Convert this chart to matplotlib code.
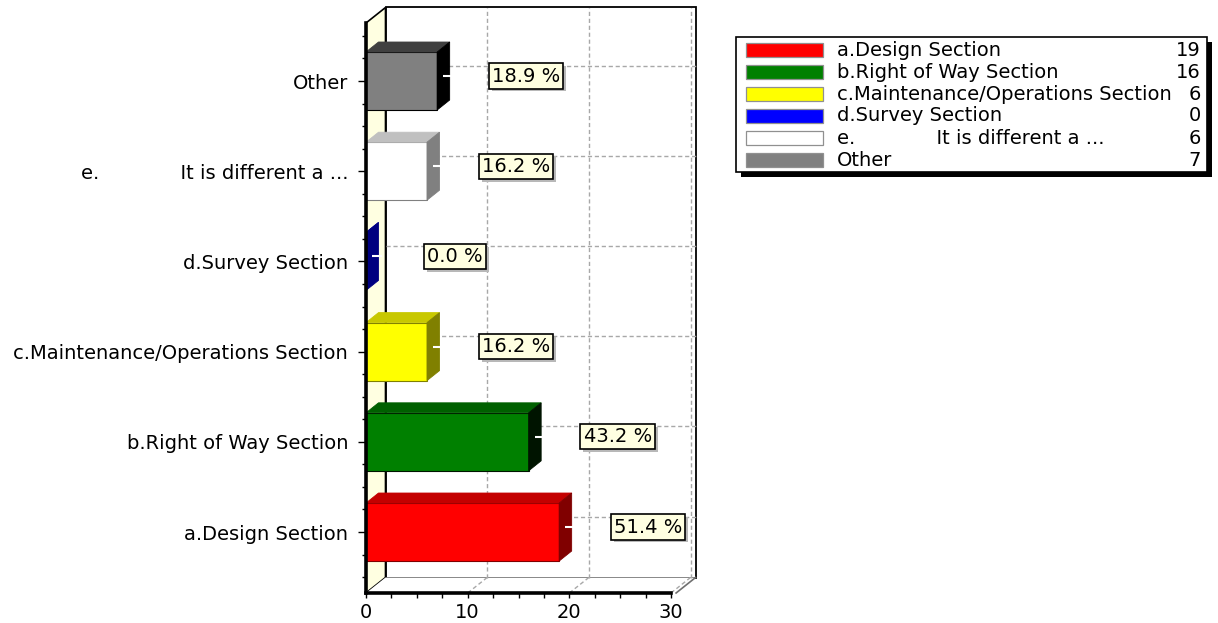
import matplotlib
matplotlib.use("Agg")
import matplotlib.pyplot as plt
from matplotlib import patheffects
from matplotlib.patches import Polygon, Rectangle
from matplotlib.ticker import MultipleLocator
import numpy as np

# Survey answers (bottom to top) and counts
categories = [
    "a.Design Section",
    "b.Right of Way Section",
    "c.Maintenance/Operations Section",
    "d.Survey Section",
    "e.             It is different a ...",
    "Other",
]
counts = [19, 16, 6, 0, 6, 7]
respondents = 37
x_ticks = [0, 10, 20, 30]

face_colors = ["#FF0000", "#008000", "#FFFF00", "#0000FF", "#FFFFFF", "#808080"]
top_colors = ["#C40000", "#006000", "#C8C800", "#0000C0", "#C0C0C0", "#404040"]
side_colors = ["#800000", "#001400", "#808000", "#000080", "#808080", "#000000"]

W, H = 1218, 623
FONT = 14
plt.rcParams["font.family"] = ["DejaVu Sans"]

fig = plt.figure(figsize=(W / 100, H / 100), dpi=100)
ax = fig.add_axes([366 / W, (H - 593) / H, 305 / W, 570 / H])
XMAX = 30
YMIN, YMAX = -0.676, 5.643
ax.set_xlim(0, XMAX)
ax.set_ylim(YMIN, YMAX)

sx = 305 / XMAX
sy = 570 / (YMAX - YMIN)
DX, DY = 19.5 / sx, 15.5 / sy     # depth of the chart box
BDX, BDY = 12.5 / sx, 10 / sy     # depth of each bar
HALF = 29 / sy                    # half height of a bar's front face
XR = 30.5                         # right edge of the chart box
GRID = dict(color="#A8A8A8", lw=1, ls=(0, (3, 2)), clip_on=False)

# back wall
ax.add_patch(Rectangle((DX, YMIN + DY), XR, YMAX - YMIN, fc="white",
                       ec="black", lw=1.3, zorder=0.5, clip_on=False))
# left side wall
ax.add_patch(Polygon([(0, YMIN), (0, YMAX), (DX, YMAX + DY), (DX, YMIN + DY)],
                     closed=True, fc="#FFFFE1", ec="black", lw=1.2,
                     zorder=0.6, clip_on=False))
# floor
ax.add_patch(Polygon([(0, YMIN), (XR, YMIN), (XR + DX, YMIN + DY), (DX, YMIN + DY)],
                     closed=True, fc="white", ec="none", zorder=0.6, clip_on=False))
ax.plot([XR, XR + DX], [YMIN, YMIN + DY], color="#707070", lw=1.2,
        clip_on=False, zorder=0.9)

# grid lines on the back wall and the floor
for xv in x_ticks[1:]:
    ax.plot([xv + DX, xv + DX], [YMIN + DY, YMAX + DY], zorder=0.8, **GRID)
    ax.plot([xv, xv + DX], [YMIN, YMIN + DY], zorder=0.8, **GRID)
for i in range(len(categories)):
    ax.plot([DX, XR + DX], [i + DY, i + DY], zorder=0.8, **GRID)

# 3-D bars
for i, v in enumerate(counts):
    y0, y1 = i - HALF, i + HALF
    ax.add_patch(Rectangle((0, y0), v, 2 * HALF, fc=face_colors[i],
                           ec=side_colors[i], lw=0.8, zorder=2))
    ax.add_patch(Polygon([(0, y1), (v, y1), (v + BDX, y1 + BDY), (BDX, y1 + BDY)],
                         closed=True, fc=top_colors[i], ec=top_colors[i],
                         lw=0.6, zorder=2))
    ax.add_patch(Polygon([(v, y0), (v, y1), (v + BDX, y1 + BDY), (v + BDX, y0 + BDY)],
                         closed=True, fc=side_colors[i], ec=side_colors[i],
                         lw=0.6, zorder=2, clip_on=False))
    # leader from the bar to its percentage label
    ax.plot([v + BDX / 2, v + BDX + 0.3], [i + BDY / 2, i + BDY / 2],
            color="white", lw=1.5, zorder=3, solid_capstyle="butt")

# percentage labels in boxes with a drop shadow
for i, v in enumerate(counts):
    pct = 100 * v / respondents
    t = ax.text(v + 8.75, i + 0.055, f"{pct:.1f} %", ha="center", va="center",
                fontsize=FONT, color="black", zorder=5, clip_on=False,
                bbox=dict(boxstyle="square,pad=0.16", fc="#FFFFE1", ec="black", lw=1.2))
    t.get_bbox_patch().set_path_effects([
        patheffects.SimplePatchShadow(offset=(2, -2), shadow_rgbFace="#B8B8B8", alpha=1),
        patheffects.Normal(),
    ])

# axes
for side in ("top", "right"):
    ax.spines[side].set_visible(False)
for side in ("left", "bottom"):
    ax.spines[side].set_linewidth(2.6)
    ax.spines[side].set_zorder(3)
ax.set_yticks(range(len(categories)), categories, fontsize=FONT)
ax.yaxis.set_minor_locator(MultipleLocator(0.25))
ax.set_xticks(x_ticks, [str(t) for t in x_ticks], fontsize=FONT)
ax.xaxis.set_minor_locator(MultipleLocator(2.5))
ax.tick_params(axis="y", which="major", length=5.8, width=1, pad=7)
ax.tick_params(axis="y", which="minor", length=3, width=1)
ax.tick_params(axis="x", which="both", length=3.6, width=1, pad=3.5)
ax.patch.set_visible(False)


# legend with counts, placed in figure pixels
def fx(px):
    return px / W


def fy(py):
    return 1 - py / H


lx0, lx1, ly0, ly1 = 736, 1207, 37, 172
fig.patches.append(Rectangle((fx(lx0 + 5), fy(ly1 + 5)), fx(lx1 - lx0), (ly1 - ly0) / H,
                             transform=fig.transFigure, fc="black", ec="none"))
fig.patches.append(Rectangle((fx(lx0), fy(ly1)), fx(lx1 - lx0), (ly1 - ly0) / H,
                             transform=fig.transFigure, fc="white", ec="black", lw=1.2))
for k, (name, n) in enumerate(zip(categories, counts)):
    cy = 50 + 22 * k
    fig.patches.append(Rectangle((fx(746), fy(cy + 7)), fx(77), 14 / H,
                                 transform=fig.transFigure, fc=face_colors[k],
                                 ec="#909090", lw=0.9))
    fig.text(fx(837), fy(cy), name, ha="left", va="center", fontsize=FONT)
    fig.text(fx(1201), fy(cy), str(n), ha="right", va="center", fontsize=FONT)

fig.savefig("out.png", dpi=100)
